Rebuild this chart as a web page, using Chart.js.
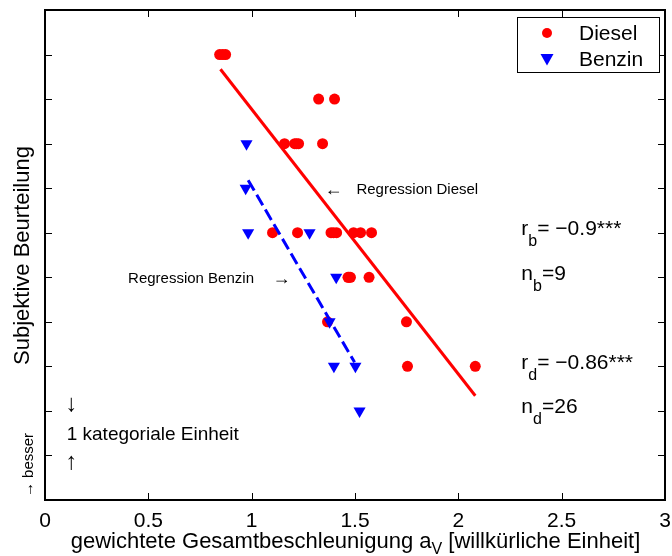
<!DOCTYPE html>
<html><head><meta charset="utf-8">
<script src="https://cdn.jsdelivr.net/npm/chart.js@4/dist/chart.umd.min.js"></script>
<style>html,body{margin:0;padding:0;background:#fff}canvas{display:block}</style>
</head><body>
<canvas id="c" width="672" height="556"></canvas>
<script>
// ---- data ----
const xTicks = [0, 0.5, 1, 1.5, 2, 2.5, 3];
const xTickLabels = ['0', '0.5', '1', '1.5', '2', '2.5', '3'];
const yTicks = [1, 2, 3, 4, 5, 6, 7, 8, 9, 10];

const dieselX = [0.845, 0.860, 0.874,
                 1.324, 1.401,
                 1.159, 1.208, 1.217, 1.227, 1.343,
                 1.101, 1.222, 1.384, 1.396, 1.411, 1.493, 1.527, 1.580,
                 1.466, 1.471, 1.478, 1.568,
                 1.367, 1.749,
                 1.754, 2.082];
const dieselY = [10, 10, 10,
                 9, 9,
                 8, 8, 8, 8, 8,
                 6, 6, 6, 6, 6, 6, 6, 6,
                 5, 5, 5, 5,
                 4, 4,
                 3, 3];

const benzinX = [0.975, 0.971, 0.983, 1.280, 1.409, 1.377, 1.398, 1.502, 1.522];
const benzinY = [8, 7, 6, 6, 5, 4, 3, 3, 2];

const regDieselX = [0.849, 2.082];
const regDieselY = [9.67, 2.34];
const regBenzinX = [0.983, 1.498];
const regBenzinY = [7.18, 3.09];

const seriesNames = ['Diesel', 'Benzin'];
const stats = [
  { main: 'r', sub: 'b', rest: '= \u22120.9***', y: 6 },
  { main: 'n', sub: 'b', rest: '=9', y: 5 },
  { main: 'r', sub: 'd', rest: '= \u22120.86***', y: 3 },
  { main: 'n', sub: 'd', rest: '=26', y: 2 }
];

// ---- helpers ----
const FONT = '"Liberation Sans", Arial, Helvetica, sans-serif';
const RED = '#ff0000', BLUE = '#0000ff';
const toPts = (xs, ys) => xs.map((x, i) => ({ x: x, y: ys[i] }));

function drawSub(ctx, x, y, main, sub, rest, size, subSize, subDy) {
  ctx.textAlign = 'left';
  ctx.textBaseline = 'alphabetic';
  ctx.font = size + 'px ' + FONT;
  ctx.fillText(main, x, y);
  let cx = x + ctx.measureText(main).width;
  ctx.font = subSize + 'px ' + FONT;
  ctx.fillText(sub, cx, y + subDy);
  cx += ctx.measureText(sub).width;
  ctx.font = size + 'px ' + FONT;
  ctx.fillText(rest, cx, y);
}

const framePlugin = {
  id: 'framePlugin',
  afterDraw(chart) {
    const { ctx, chartArea: a, scales } = chart;
    const sx = scales.x, sy = scales.y;
    ctx.save();
    ctx.fillStyle = '#000';
    ctx.strokeStyle = '#000';

    // inward ticks on all sides
    ctx.lineWidth = 1;
    ctx.beginPath();
    xTicks.forEach(v => {
      const px = Math.round(sx.getPixelForValue(v)) + 0.5;
      ctx.moveTo(px, a.bottom); ctx.lineTo(px, a.bottom - 7);
      ctx.moveTo(px, a.top); ctx.lineTo(px, a.top + 7);
    });
    yTicks.forEach(v => {
      const py = Math.round(sy.getPixelForValue(v)) + 0.5;
      ctx.moveTo(a.left, py); ctx.lineTo(a.left + 7, py);
      ctx.moveTo(a.right, py); ctx.lineTo(a.right - 7, py);
    });
    ctx.stroke();

    // box
    ctx.lineWidth = 2;
    ctx.strokeRect(a.left, a.top, a.right - a.left, a.bottom - a.top);

    // legend
    const lx = 517, ly = 17, lw = 142, lh = 55;
    ctx.fillStyle = '#fff';
    ctx.fillRect(lx, ly, lw, lh);
    ctx.lineWidth = 1;
    ctx.strokeRect(lx + 0.5, ly + 0.5, lw, lh);
    ctx.fillStyle = RED;
    ctx.beginPath(); ctx.arc(547, 33, 5, 0, Math.PI * 2); ctx.fill();
    ctx.fillStyle = BLUE;
    ctx.beginPath();
    ctx.moveTo(540.5, 54); ctx.lineTo(553.5, 54); ctx.lineTo(547, 65.5); ctx.closePath(); ctx.fill();
    ctx.fillStyle = '#000';
    ctx.font = '21px ' + FONT;
    ctx.textAlign = 'left';
    ctx.textBaseline = 'middle';
    ctx.fillText(seriesNames[0], 579, 34);
    ctx.fillText(seriesNames[1], 579, 60);

    // statistics
    stats.forEach(s => {
      drawSub(ctx, sx.getPixelForValue(2.305), sy.getPixelForValue(s.y) + 2.5,
              s.main, s.sub, s.rest, 21, 16, 11);
    });

    // regression annotations
    ctx.font = '15px ' + FONT;
    ctx.textAlign = 'left';
    ctx.textBaseline = 'alphabetic';
    ctx.fillText('Regression Diesel', sx.getPixelForValue(1.507), sy.getPixelForValue(7) + 5.5);
    ctx.fillText('Regression Benzin', sx.getPixelForValue(0.402), sy.getPixelForValue(5) + 5.5);
    ctx.font = '18px ' + FONT;
    ctx.fillText('\u2190', sx.getPixelForValue(1.353), sy.getPixelForValue(7) + 6.5);
    ctx.fillText('\u2192', sx.getPixelForValue(1.101), sy.getPixelForValue(5) + 6.5);

    // category unit
    ctx.font = '19px ' + FONT;
    ctx.fillText('1 kategoriale Einheit', sx.getPixelForValue(0.105), sy.getPixelForValue(1.5) + 7);
    ctx.font = '24px ' + FONT;
    ctx.textAlign = 'center';
    ctx.textBaseline = 'middle';
    ctx.fillText('\u2193', sx.getPixelForValue(0.128), sy.getPixelForValue(2.15));
    ctx.fillText('\u2191', sx.getPixelForValue(0.128), sy.getPixelForValue(0.85));

    // y title
    ctx.save();
    ctx.translate(29, 255.5);
    ctx.rotate(-Math.PI / 2);
    ctx.font = '22px ' + FONT;
    ctx.textAlign = 'center';
    ctx.textBaseline = 'alphabetic';
    ctx.fillText('Subjektive Beurteilung', 0, 0);
    ctx.restore();

    // "besser" arrow
    ctx.save();
    ctx.translate(33, 465);
    ctx.rotate(-Math.PI / 2);
    ctx.font = '15px ' + FONT;
    ctx.textAlign = 'center';
    ctx.textBaseline = 'alphabetic';
    ctx.fillText('\u2192 besser', 0, 0);
    ctx.restore();

    // x title with subscript
    const p1 = 'gewichtete Gesamtbeschleunigung a', ps = 'V', p2 = ' [willk\u00fcrliche Einheit]';
    ctx.font = '22px ' + FONT;
    const w1 = ctx.measureText(p1).width, w2 = ctx.measureText(p2).width;
    ctx.font = '16px ' + FONT;
    const ws = ctx.measureText(ps).width;
    const total = w1 + ws + w2;
    const startX = 355.5 - total / 2;
    drawSub(ctx, startX, 548, p1, ps, p2, 22, 16, 6);

    ctx.restore();
  }
};

new Chart(document.getElementById('c'), {
  type: 'scatter',
  data: {
    datasets: [
      { label: 'RegDiesel', data: toPts(regDieselX, regDieselY), showLine: true,
        borderColor: RED, borderWidth: 3, pointRadius: 0, order: 0 },
      { label: 'RegBenzin', data: toPts(regBenzinX, regBenzinY), showLine: true,
        borderColor: BLUE, borderWidth: 3, borderDash: [12, 5], pointRadius: 0, order: 0 },
      { label: seriesNames[1], data: toPts(benzinX, benzinY), pointStyle: 'triangle', rotation: 180,
        pointRadius: 7, backgroundColor: BLUE, borderColor: BLUE, borderWidth: 0, order: 1 },
      { label: seriesNames[0], data: toPts(dieselX, dieselY), pointStyle: 'circle',
        pointRadius: 5.5, backgroundColor: RED, borderColor: RED, borderWidth: 0, order: 2 }
    ]
  },
  options: {
    responsive: false,
    animation: false,
    devicePixelRatio: 1,
    layout: { padding: { left: 0, right: 6, top: 10, bottom: 0 } },
    plugins: { legend: { display: false }, tooltip: { enabled: false } },
    scales: {
      x: {
        type: 'linear', min: 0, max: 3,
        afterBuildTicks: s => { s.ticks = xTicks.map(v => ({ value: v })); },
        afterFit: s => { s.height = 56; s.paddingLeft = 0; s.paddingRight = 0; },
        grid: { display: false, drawTicks: false },
        border: { display: false },
        ticks: {
          autoSkip: false, maxRotation: 0, padding: 9, color: '#000',
          font: { family: FONT, size: 21 },
          callback: (v, i) => xTickLabels[i]
        }
      },
      y: {
        type: 'linear', min: 0, max: 11,
        afterBuildTicks: s => { s.ticks = yTicks.map(v => ({ value: v })); },
        afterFit: s => { s.width = 45; s.paddingTop = 0; s.paddingBottom = 0; },
        grid: { display: false, drawTicks: false },
        border: { display: false },
        ticks: { display: false }
      }
    }
  },
  plugins: [framePlugin]
});
</script>
</body></html>
